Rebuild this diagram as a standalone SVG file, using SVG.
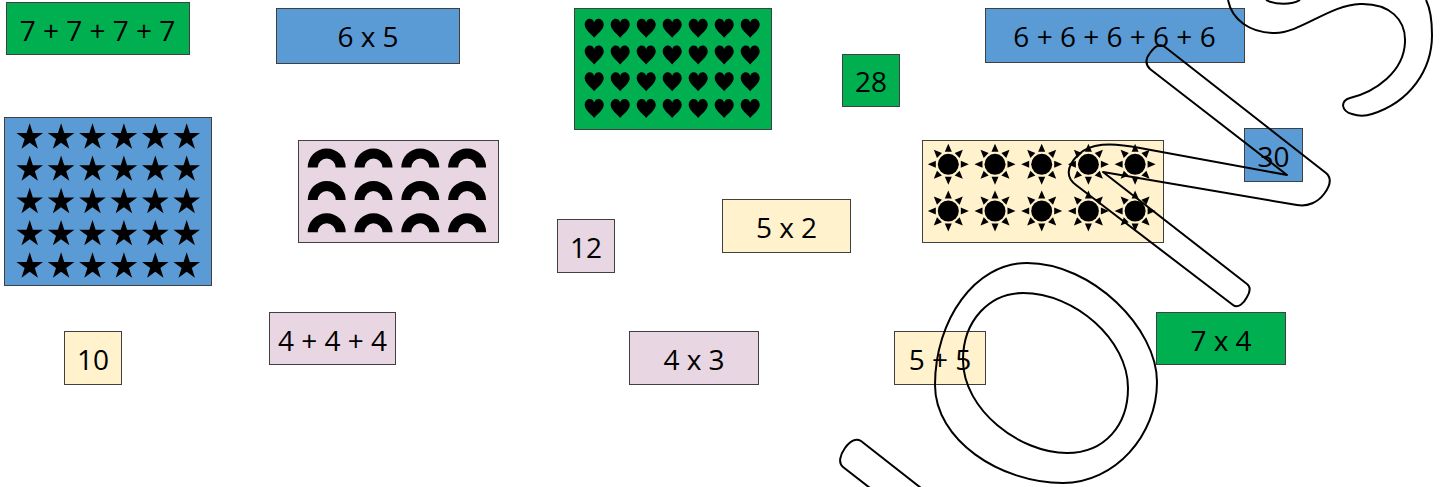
<svg xmlns="http://www.w3.org/2000/svg" xmlns:xlink="http://www.w3.org/1999/xlink" width="1445" height="487" viewBox="0 0 1445 487">
<style>
.box{stroke:#404040;stroke-width:1}
.g{fill:#00B050}
.b{fill:#5B9BD5}
.p{fill:#E8D6E2}
.y{fill:#FFF2CC}
.t{font-family:"Open Sans","Liberation Sans",sans-serif;font-size:28px;fill:#000;text-anchor:middle}
.ol{fill:none;stroke:#000;stroke-width:2;stroke-linejoin:round}
</style>
<defs>
<polygon id="star" points="0,-14 3.14,-4.33 13.31,-4.33 5.09,1.65 8.23,11.33 0,5.35 -8.23,11.33 -5.09,1.65 -13.31,-4.33 -3.14,-4.33" fill="#000"/>
<path id="heart" d="M0,9.5 C-3,5.5 -9.5,1.5 -9.5,-3.5 C-9.5,-7 -7,-9.5 -4.7,-9.5 C-2,-9.5 -0.5,-7.8 0,-5.8 C0.5,-7.8 2,-9.5 4.7,-9.5 C7,-9.5 9.5,-7 9.5,-3.5 C9.5,1.5 3,5.5 0,9.5 Z" fill="#000"/>
<path id="arch" d="M-19,0 A19,19 0 0 1 19,0 L9,0 A9,9 0 0 0 -9,0 Z" fill="#000"/>
<polygon id="ray" points="12.5,-3.5 20.5,0 12.5,3.5" fill="#000"/>
<g id="sun">
<circle r="10.5" fill="#000"/>
<use xlink:href="#ray"/>
<use xlink:href="#ray" transform="rotate(45)"/>
<use xlink:href="#ray" transform="rotate(90)"/>
<use xlink:href="#ray" transform="rotate(135)"/>
<use xlink:href="#ray" transform="rotate(180)"/>
<use xlink:href="#ray" transform="rotate(225)"/>
<use xlink:href="#ray" transform="rotate(270)"/>
<use xlink:href="#ray" transform="rotate(315)"/>
</g>
</defs>

<g id="n-7plus"><rect class="box g" x="6.5" y="2.5" width="183" height="52"/><text class="t" x="97.5" y="41">7 + 7 + 7 + 7</text></g>
<g id="n-6x5"><rect class="box b" x="276.5" y="8.5" width="183" height="55"/><text class="t" x="368" y="47">6 x 5</text></g>
<g id="n-hearts"><rect class="box g" x="574.5" y="8.5" width="197" height="121"/>
<g>
<use xlink:href="#heart" x="594.2" y="28.2"/><use xlink:href="#heart" x="620.2" y="28.2"/><use xlink:href="#heart" x="646.2" y="28.2"/><use xlink:href="#heart" x="672.2" y="28.2"/><use xlink:href="#heart" x="698.2" y="28.2"/><use xlink:href="#heart" x="724.2" y="28.2"/><use xlink:href="#heart" x="750.2" y="28.2"/>
<use xlink:href="#heart" x="594.2" y="55"/><use xlink:href="#heart" x="620.2" y="55"/><use xlink:href="#heart" x="646.2" y="55"/><use xlink:href="#heart" x="672.2" y="55"/><use xlink:href="#heart" x="698.2" y="55"/><use xlink:href="#heart" x="724.2" y="55"/><use xlink:href="#heart" x="750.2" y="55"/>
<use xlink:href="#heart" x="594.2" y="81.8"/><use xlink:href="#heart" x="620.2" y="81.8"/><use xlink:href="#heart" x="646.2" y="81.8"/><use xlink:href="#heart" x="672.2" y="81.8"/><use xlink:href="#heart" x="698.2" y="81.8"/><use xlink:href="#heart" x="724.2" y="81.8"/><use xlink:href="#heart" x="750.2" y="81.8"/>
<use xlink:href="#heart" x="594.2" y="108.5"/><use xlink:href="#heart" x="620.2" y="108.5"/><use xlink:href="#heart" x="646.2" y="108.5"/><use xlink:href="#heart" x="672.2" y="108.5"/><use xlink:href="#heart" x="698.2" y="108.5"/><use xlink:href="#heart" x="724.2" y="108.5"/><use xlink:href="#heart" x="750.2" y="108.5"/>
</g></g>
<g id="n-28"><rect class="box g" x="842.5" y="54.5" width="57" height="52"/><text class="t" x="871" y="92">28</text></g>
<g id="n-6plus"><rect class="box b" x="985.5" y="8.5" width="259" height="54"/><text class="t" x="1114.5" y="47">6 + 6 + 6 + 6 + 6</text></g>

<g id="n-stars"><rect class="box b" x="4.5" y="117.5" width="207" height="168"/>
<g>
<use xlink:href="#star" x="29.7" y="137.3"/><use xlink:href="#star" x="61.1" y="137.3"/><use xlink:href="#star" x="92.5" y="137.3"/><use xlink:href="#star" x="123.9" y="137.3"/><use xlink:href="#star" x="155.3" y="137.3"/><use xlink:href="#star" x="186.7" y="137.3"/>
<use xlink:href="#star" x="29.7" y="169.5"/><use xlink:href="#star" x="61.1" y="169.5"/><use xlink:href="#star" x="92.5" y="169.5"/><use xlink:href="#star" x="123.9" y="169.5"/><use xlink:href="#star" x="155.3" y="169.5"/><use xlink:href="#star" x="186.7" y="169.5"/>
<use xlink:href="#star" x="29.7" y="201.8"/><use xlink:href="#star" x="61.1" y="201.8"/><use xlink:href="#star" x="92.5" y="201.8"/><use xlink:href="#star" x="123.9" y="201.8"/><use xlink:href="#star" x="155.3" y="201.8"/><use xlink:href="#star" x="186.7" y="201.8"/>
<use xlink:href="#star" x="29.7" y="234"/><use xlink:href="#star" x="61.1" y="234"/><use xlink:href="#star" x="92.5" y="234"/><use xlink:href="#star" x="123.9" y="234"/><use xlink:href="#star" x="155.3" y="234"/><use xlink:href="#star" x="186.7" y="234"/>
<use xlink:href="#star" x="29.7" y="266.3"/><use xlink:href="#star" x="61.1" y="266.3"/><use xlink:href="#star" x="92.5" y="266.3"/><use xlink:href="#star" x="123.9" y="266.3"/><use xlink:href="#star" x="155.3" y="266.3"/><use xlink:href="#star" x="186.7" y="266.3"/>
</g></g>

<g id="n-arches"><rect class="box p" x="298.5" y="140.5" width="200" height="102"/>
<g>
<use xlink:href="#arch" x="326.7" y="167.5"/><use xlink:href="#arch" x="373.5" y="167.5"/><use xlink:href="#arch" x="420.3" y="167.5"/><use xlink:href="#arch" x="467.1" y="167.5"/>
<use xlink:href="#arch" x="326.7" y="200"/><use xlink:href="#arch" x="373.5" y="200"/><use xlink:href="#arch" x="420.3" y="200"/><use xlink:href="#arch" x="467.1" y="200"/>
<use xlink:href="#arch" x="326.7" y="232.3"/><use xlink:href="#arch" x="373.5" y="232.3"/><use xlink:href="#arch" x="420.3" y="232.3"/><use xlink:href="#arch" x="467.1" y="232.3"/>
</g></g>

<g id="n-12"><rect class="box p" x="557.5" y="219.5" width="57" height="53"/><text class="t" x="586" y="258">12</text></g>
<g id="n-5x2"><rect class="box y" x="722.5" y="199.5" width="128" height="53"/><text class="t" x="786.5" y="238">5 x 2</text></g>

<g id="n-suns"><rect class="box y" x="922.5" y="140.5" width="241" height="102"/>
<g>
<use xlink:href="#sun" x="948.3" y="164.3"/><use xlink:href="#sun" x="995" y="164.3"/><use xlink:href="#sun" x="1041.7" y="164.3"/><use xlink:href="#sun" x="1088.4" y="164.3"/><use xlink:href="#sun" x="1135.1" y="164.3"/>
<use xlink:href="#sun" x="948.3" y="211"/><use xlink:href="#sun" x="995" y="211"/><use xlink:href="#sun" x="1041.7" y="211"/><use xlink:href="#sun" x="1088.4" y="211"/><use xlink:href="#sun" x="1135.1" y="211"/>
</g></g>

<g id="n-30"><rect class="box b" x="1244.5" y="128.5" width="58" height="53"/><text class="t" x="1273.5" y="167">30</text></g>
<g id="n-10"><rect class="box y" x="64.5" y="331.5" width="57" height="53"/><text class="t" x="93" y="370">10</text></g>
<g id="n-4plus"><rect class="box p" x="269.5" y="312.5" width="126" height="52"/><text class="t" x="332.5" y="351">4 + 4 + 4</text></g>
<g id="n-4x3"><rect class="box p" x="629.5" y="331.5" width="129" height="53"/><text class="t" x="694" y="370">4 x 3</text></g>
<g id="n-5plus"><rect class="box y" x="894.5" y="331.5" width="91" height="53"/><text class="t" x="940" y="370">5 + 5</text></g>
<g id="n-7x4"><rect class="box g" x="1156.5" y="312.5" width="129" height="52"/><text class="t" x="1221" y="351">7 x 4</text></g>

<g id="connectors">
<path class="ol" d="M1228,0 C1232,20 1250,33 1275,33 C1300,33 1330,5 1360,4 C1390,3 1406,20 1405,42 C1404,72 1375,92 1350,98 C1340,101 1341,111 1352,114 C1358,116 1366,116 1372,114 C1410,102 1432,70 1432,35 C1432,20 1430,8 1426,0"/>
<path class="ol" d="M1266,0 C1275,5 1292,5 1300,0"/>
<path class="ol" d="M1103,172 L1297,205 C1308,207 1318,202 1324,194 C1330,186 1332,178 1326,173 L1165,47 C1160,43 1155,46 1150,53 C1146,58 1145,64 1150,69 L1287,175 L1140,148 C1110,142 1090,143 1078,155 C1066,167 1066,178 1076,185 L1233,305 C1238,309 1244,303 1247,297 C1250,292 1251,287 1247,284 Z"/>
<path class="ol" d="M1027,263 C1092,263 1157,328 1157,382 C1157,435 1115,483 1063,483 C1000,483 935,440 935,385 C935,320 975,263 1027,263 Z"/>
<path class="ol" d="M1023,293 C1075,293 1128,340 1128,388 C1128,425 1105,453 1067,453 C1020,453 963,410 963,360 C963,320 990,293 1023,293 Z"/>
<path class="ol" d="M870,488 L843,467 C838,463 840,455 845,448 C850,441 856,438 861,441 L921,488"/>
</g>
</svg>
